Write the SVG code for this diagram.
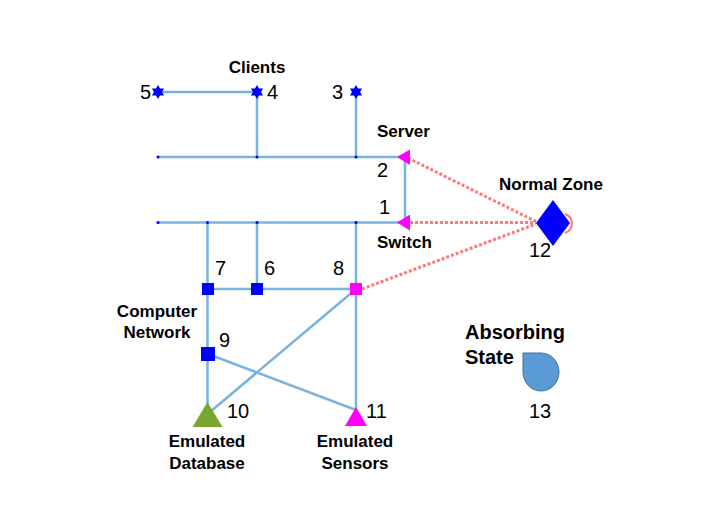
<svg xmlns="http://www.w3.org/2000/svg" xmlns:xlink="http://www.w3.org/1999/xlink" width="706" height="530" viewBox="0 0 706 530">
<style>
.edge{stroke:#7ab4de;stroke-width:2.5;fill:none}
.dash{stroke:#ff7a7a;stroke-width:3;fill:none;stroke-dasharray:3,2}
.lbl{font-family:"Liberation Sans",Arial,sans-serif;font-weight:bold;font-size:17px;fill:#000}
.num{font-family:"Liberation Sans",Arial,sans-serif;font-size:20px;fill:#000}
.big{font-family:"Liberation Sans",Arial,sans-serif;font-weight:bold;font-size:20px;fill:#000}
.blue{fill:#0000ff}
.mag{fill:#ff00ff}
.dot{fill:#0000ff}
</style>
<defs>
<polygon id="star" points="0,-7 2.02,-3.5 6.06,-3.5 4.04,0 6.06,3.5 2.02,3.5 0,7 -2.02,3.5 -6.06,3.5 -4.04,0 -6.06,-3.5 -2.02,-3.5"/>
</defs>
<rect width="706" height="530" fill="#fff"/>
<g id="connectors">
<path class="edge" d="M158,92 H257 M257,92 V157 M356,92 V157 M158,157 H405 M405,157 V222.5 M158,222.5 H405"/>
<path class="edge" d="M207.5,222.5 V415 M257,222.5 V289 M356,222.5 V412 M207.5,289 H356"/>
<path class="edge" d="M356,289 L210,412 M208,354 L356,410"/>
<path class="dash" d="M408,158 L536,221.5 M410,222.5 L536,222.5 M362,289 L536,224"/>
<path d="M565,214 A10,10 0 0 1 565,233" stroke="#ff7a7a" stroke-width="2" fill="none"/>
<g class="dot">
<circle cx="158" cy="157" r="1.5"/><circle cx="257" cy="157" r="1.5"/><circle cx="356" cy="157" r="1.5"/>
<circle cx="158" cy="222.5" r="1.5"/><circle cx="207.5" cy="222.5" r="1.5"/><circle cx="257" cy="222.5" r="1.5"/><circle cx="356" cy="222.5" r="1.5"/>
</g>
</g>
<g id="n5"><use xlink:href="#star" href="#star" x="158" y="92" class="blue"/><text class="num" x="140" y="99">5</text></g>
<g id="n4"><use xlink:href="#star" href="#star" x="257" y="92" class="blue"/><text class="num" x="267" y="99">4</text><text class="lbl" x="257" y="73" text-anchor="middle">Clients</text></g>
<g id="n3"><use xlink:href="#star" href="#star" x="356" y="92" class="blue"/><text class="num" x="332" y="99">3</text></g>
<g id="n2"><polygon class="mag" points="397,157 410,149.5 410,165"/><text class="num" x="377" y="177">2</text><text class="lbl" x="377" y="137">Server</text></g>
<g id="n1"><polygon class="mag" points="397,222.5 410,214.5 410,230.5"/><text class="num" x="379" y="214">1</text><text class="lbl" x="377" y="248">Switch</text></g>
<g id="n7"><rect class="blue" x="202" y="283" width="12" height="12"/><text class="num" x="215" y="275">7</text></g>
<g id="n6"><rect class="blue" x="251" y="283" width="12" height="12"/><text class="num" x="264" y="275">6</text></g>
<g id="n8"><rect class="mag" x="350" y="283" width="12" height="12"/><text class="num" x="333" y="275">8</text></g>
<g id="n9"><rect class="blue" x="201" y="347" width="14" height="14"/><text class="num" x="219" y="347">9</text><text class="lbl" x="157" y="317" text-anchor="middle">Computer</text><text class="lbl" x="157" y="338" text-anchor="middle">Network</text></g>
<g id="n10"><polygon points="207.5,402 222.5,427 192.5,427" fill="#78a832"/><text class="num" x="227" y="418">10</text><text class="lbl" x="207" y="447" text-anchor="middle">Emulated</text><text class="lbl" x="207" y="469" text-anchor="middle">Database</text></g>
<g id="n11"><polygon class="mag" points="356,407 367,426 345,426"/><text class="num" x="366" y="418">11</text><text class="lbl" x="355" y="447" text-anchor="middle">Emulated</text><text class="lbl" x="355" y="469" text-anchor="middle">Sensors</text></g>
<g id="n12"><polygon class="blue" points="553,200 570,223 553,246 536,223"/><text class="lbl" x="499" y="190">Normal Zone</text><text class="num" x="529" y="257">12</text></g>
<g id="n13"><path d="M523,353 L541,353 A18,19 0 0 1 559,372 A18,19 0 0 1 541,391 A18,19 0 0 1 523,372 Z" fill="#5b9bd5" stroke="#41719c" stroke-width="1"/><text class="big" x="465" y="339">Absorbing</text><text class="big" x="465" y="364">State</text><text class="num" x="529" y="418">13</text></g>
</svg>
